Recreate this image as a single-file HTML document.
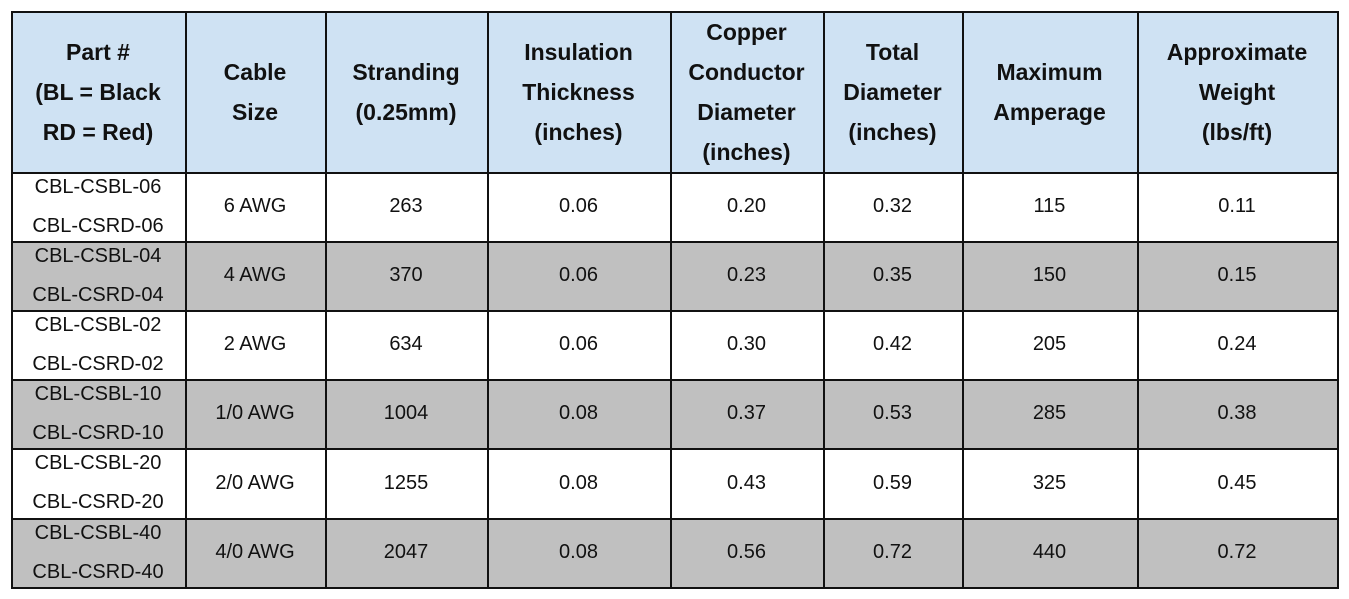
<!DOCTYPE html>
<html><head><style>
body{margin:0;width:1349px;height:599px;background:#fff;position:relative;overflow:hidden;font-family:"Liberation Sans",sans-serif;}
.c{position:absolute;display:flex;align-items:center;justify-content:center;text-align:center;color:#111;}
.h{font-weight:bold;font-size:23px;line-height:40px;background:#cfe2f3;}
.b{font-size:20px;line-height:39px;}
.g{background:#c0c0c0;}
.w{background:#fff;}
.v{position:absolute;background:#111;width:2px;top:11px;height:577px;}
.hl{position:absolute;background:#111;height:2px;left:11px;width:1328px;}
</style></head><body>
<div id="t"></div>
<script>
const xs=[11,185,325,487,670,823,962,1137,1337];
const ys=[11,172,241,310,379,448,518,587];
const hd=["Part #<br>(BL = Black<br>RD = Red)","Cable<br>Size","Stranding<br>(0.25mm)","Insulation<br>Thickness<br>(inches)","Copper<br>Conductor<br>Diameter<br>(inches)","Total<br>Diameter<br>(inches)","Maximum<br>Amperage","Approximate<br>Weight<br>(lbs/ft)"];
const rows=[
["CBL-CSBL-06<br>CBL-CSRD-06","6 AWG","263","0.06","0.20","0.32","115","0.11"],
["CBL-CSBL-04<br>CBL-CSRD-04","4 AWG","370","0.06","0.23","0.35","150","0.15"],
["CBL-CSBL-02<br>CBL-CSRD-02","2 AWG","634","0.06","0.30","0.42","205","0.24"],
["CBL-CSBL-10<br>CBL-CSRD-10","1/0 AWG","1004","0.08","0.37","0.53","285","0.38"],
["CBL-CSBL-20<br>CBL-CSRD-20","2/0 AWG","1255","0.08","0.43","0.59","325","0.45"],
["CBL-CSBL-40<br>CBL-CSRD-40","4/0 AWG","2047","0.08","0.56","0.72","440","0.72"]];
let h="";
for(let i=0;i<8;i++){h+=`<div class="c h" style="left:${xs[i]}px;top:${ys[0]}px;width:${xs[i+1]-xs[i]}px;height:${ys[1]-ys[0]}px">${hd[i]}</div>`;}
rows.forEach((r,j)=>{for(let i=0;i<8;i++){h+=`<div class="c b ${j%2?'g':'w'}" style="left:${xs[i]}px;top:${ys[j+1]}px;width:${xs[i+1]-xs[i]}px;height:${ys[j+2]-ys[j+1]}px">${r[i]}</div>`;}});
xs.forEach(x=>h+=`<div class="v" style="left:${x}px"></div>`);
ys.forEach(y=>h+=`<div class="hl" style="top:${y}px"></div>`);
document.getElementById("t").innerHTML=h;
</script>
</body></html>
